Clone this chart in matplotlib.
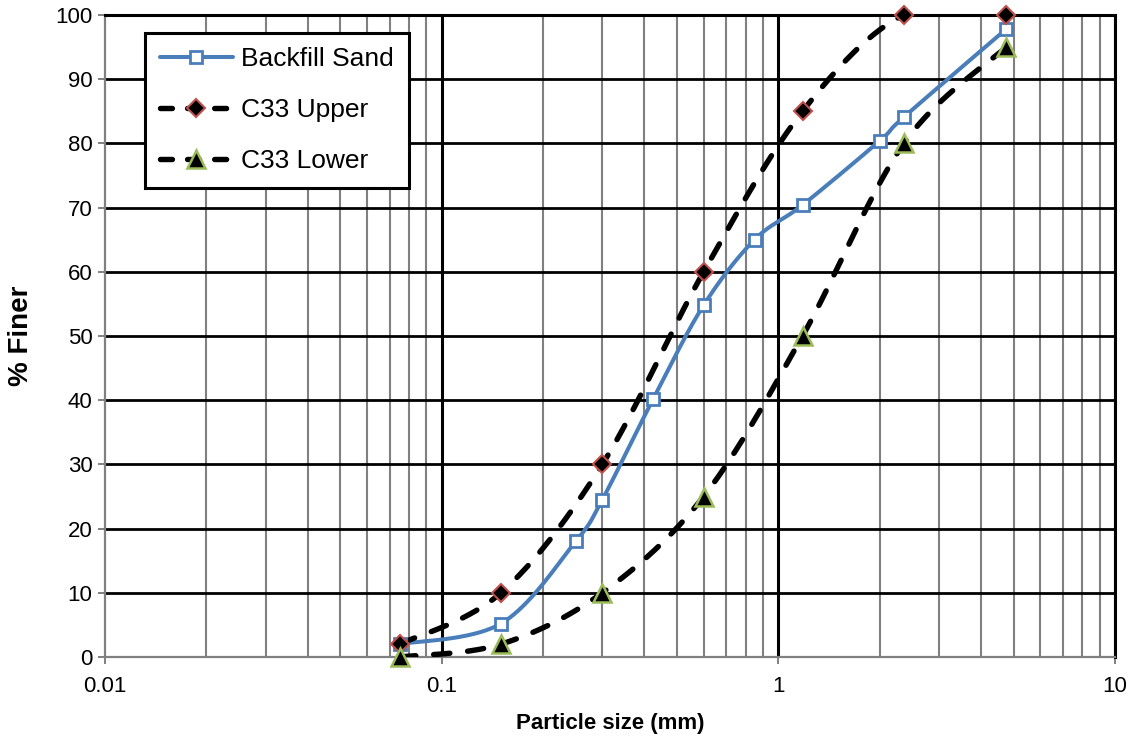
import numpy as np
import matplotlib
matplotlib.use("Agg")
import matplotlib.pyplot as plt
from matplotlib.ticker import FixedLocator, NullFormatter
from matplotlib.lines import Line2D

plt.rcParams['font.family'] = ['Liberation Sans', 'DejaVu Sans']

sieve_sand = [0.075, 0.15, 0.25, 0.3, 0.425, 0.6, 0.85, 1.18, 2.0, 2.36, 4.75]
finer_sand = [2, 5.2, 18, 24.5, 40.2, 54.8, 65, 70.4, 80.4, 84.1, 97.8]
sieve_c33 = [0.075, 0.15, 0.3, 0.6, 1.18, 2.36, 4.75]
c33_upper = [2, 10, 30, 60, 85, 100, 100]
c33_lower = [0, 2, 10, 25, 50, 80, 95]
x_ticks = [0.01, 0.1, 1, 10]
x_tick_labels = ['0.01', '0.1', '1', '10']
y_ticks = list(range(0, 101, 10))

fig = plt.figure(figsize=(11.37, 7.4), dpi=100)
ax = fig.add_axes([105/1137, 1-657/740, 1010/1137, 642/740])
ax.set_xscale('log')
ax.set_xlim(0.01, 10)
ax.set_ylim(0, 100)


def smooth(xs, ys, n=40):
    # Excel-like smoothed line: cubic Bezier with Catmull-Rom tangents in display space
    pts = ax.transData.transform(np.column_stack([xs, ys]))
    P = np.vstack([pts[0], pts, pts[-1]])
    out = []
    t = np.linspace(0, 1, n)[:, None]
    for i in range(1, len(P) - 2):
        p0, p1, p2, p3 = P[i-1], P[i], P[i+1], P[i+2]
        c1 = p1 + (p2 - p0) / 6
        c2 = p2 - (p3 - p1) / 6
        seg = ((1-t)**3)*p1 + 3*((1-t)**2)*t*c1 + 3*(1-t)*t**2*c2 + t**3*p2
        out.append(seg)
    arr = np.vstack(out)
    d = ax.transData.inverted().transform(arr)
    return d[:, 0], d[:, 1]

# grid
minor = [m * 10.0**e for e in (-2, -1, 0) for m in range(2, 10)]
for xv in minor:
    ax.axvline(xv, color='#808080', lw=1.5, zorder=1)
for xv in [0.1, 1, 10]:
    ax.axvline(xv, color='black', lw=2.2, zorder=1)
for yv in y_ticks[1:]:
    ax.axhline(yv, color='black', lw=2.0, zorder=1)

blue = '#4A7EBB'
dash = (3, 3.3)
sx, sy = smooth(sieve_sand, finer_sand)
ax.plot(sx, sy, color=blue, lw=2.9, zorder=3, solid_capstyle='round')
ux, uy = smooth(sieve_c33, c33_upper)
ax.plot(ux, uy, color='black', lw=3.9, dashes=dash, dash_capstyle='round', zorder=3)
lx, ly = smooth(sieve_c33, c33_lower)
ax.plot(lx, ly, color='black', lw=3.9, dashes=dash, dash_capstyle='round', zorder=3)

sq = dict(marker='s', ms=8.5, mfc='white', mec=blue, mew=2.0)
di = dict(marker='D', ms=9.5, mfc='black', mec='#C0504D', mew=1.5)
tr = dict(marker='^', ms=13, mfc='black', mec='#9BBB59', mew=1.8)
ax.plot(sieve_sand, finer_sand, ls='none', zorder=5, clip_on=False, **sq)
ax.plot(sieve_c33, c33_upper, ls='none', zorder=6, clip_on=False, **di)
ax.plot(sieve_c33, c33_lower, ls='none', zorder=7, clip_on=False, **tr)

# legend proxies
h1 = Line2D([], [], color=blue, lw=2.9, solid_capstyle='round', **sq)
h2 = Line2D([], [], color='black', lw=3.9, dashes=(2.2, 2.8), dash_capstyle='round', **di)
h3 = Line2D([], [], color='black', lw=3.9, dashes=(2.2, 2.8), dash_capstyle='round', **tr)
leg = ax.legend([h1, h2, h3], ['Backfill Sand', 'C33 Upper', 'C33 Lower'],
                loc='upper left', bbox_to_anchor=(0.0396, 0.972), fontsize=19,
                frameon=True, fancybox=False, edgecolor='black', framealpha=1,
                handlelength=2.8, handletextpad=0.3, labelspacing=1.02,
                borderpad=0.55, borderaxespad=0)
leg.get_frame().set_linewidth(2.2)
leg.set_zorder(10)

ax.xaxis.set_major_locator(FixedLocator(x_ticks))
ax.set_xticklabels(x_tick_labels)
ax.xaxis.set_minor_formatter(NullFormatter())
ax.tick_params(axis='x', which='minor', length=0)
ax.set_yticks(y_ticks)
ax.tick_params(axis='both', which='major', labelsize=16, length=5, width=1.4, color='#808080', direction='out')
ax.tick_params(axis='x', pad=9)
ax.tick_params(axis='y', pad=4)

for s in ['left', 'bottom']:
    ax.spines[s].set_color('#808080')
    ax.spines[s].set_linewidth(1.6)
for s in ['top', 'right']:
    ax.spines[s].set_color('black')
    ax.spines[s].set_linewidth(2.2)
for s in ax.spines.values():
    s.set_zorder(2)

ax.set_xlabel('Particle size (mm)', fontsize=16, fontweight='bold', labelpad=11)
ax.set_ylabel('% Finer', fontsize=20, fontweight='bold', labelpad=15)

fig.savefig('out.png', dpi=100)
